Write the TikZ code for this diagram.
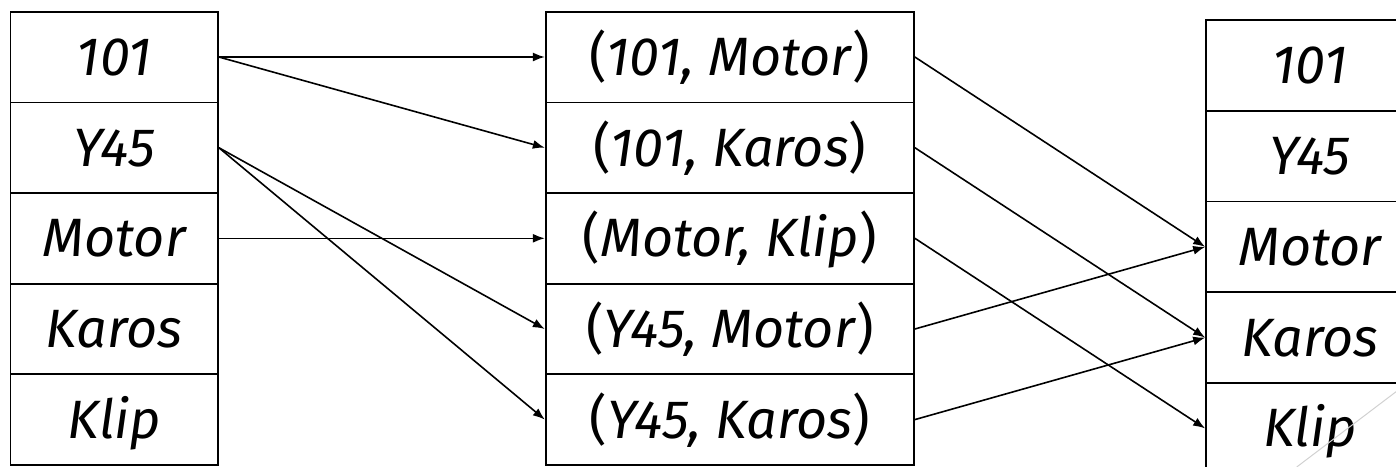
\documentclass[tikz,border=0pt]{standalone}
\usepackage{fontspec}
\setmainfont{Fira Sans}
\usetikzlibrary{arrows.meta}
\begin{document}
\begin{tikzpicture}[x=1pt,y=-1pt,
  cell/.style={draw, line width=1.7pt, rectangle, inner sep=0pt, minimum height=90.7pt,
    text height=37pt, text depth=0pt, font=\fontsize{54}{64}\selectfont\itshape},
  lcell/.style={cell, minimum width=207.5pt},
  mcell/.style={cell, minimum width=368.3pt},
  rcell/.style={cell, minimum width=208pt},
  arr/.style={line width=1.6pt, -{Latex[length=12pt,width=9pt]}},
  deco/.style={draw=black!18, line width=1pt}]
\useasboundingbox (0,0) rectangle (1396,466);
\clip (0,0) rectangle (1396,466);
% left column
\node[lcell] (l1) at (114.25,57.0) {101};
\node[lcell] (l2) at (114.25,147.7) {Y45};
\node[lcell] (l3) at (114.25,238.3) {Motor};
\node[lcell] (l4) at (114.25,329.0) {Karos};
\node[lcell] (l5) at (114.25,419.6) {Klip};
% middle column
\node[mcell] (m1) at (729.85,57.0) {\textup{(}101, Motor\textup{)}};
\node[mcell] (m2) at (729.85,147.7) {\textup{(}101, Karos\textup{)}};
\node[mcell] (m3) at (729.85,238.3) {\textup{(}Motor, Klip\textup{)}};
\node[mcell] (m4) at (729.85,329.0) {\textup{(}Y45, Motor\textup{)}};
\node[mcell] (m5) at (729.85,419.6) {\textup{(}Y45, Karos\textup{)}};
% right column
\node[rcell] (r1) at (1310,65.4) {101};
\node[rcell] (r2) at (1310,156.1) {Y45};
\node[rcell] (r3) at (1310,246.9) {Motor};
\node[rcell] (r4) at (1310,337.6) {Karos};
\node[rcell] (r5) at (1310,428.4) {Klip};
% connectors
\draw[arr] (l1.east) -- (m1.west);
\draw[arr] (l1.east) -- (m2.west);
\draw[arr] (l2.east) -- (m4.west);
\draw[arr] (l2.east) -- (m5.west);
\draw[arr] (l3.east) -- (m3.west);
\draw[arr] (m1.east) -- (r3.west);
\draw[arr] (m2.east) -- (r4.west);
\draw[arr] (m3.east) -- (r5.west);
\draw[arr] (m4.east) -- (r3.west);
\draw[arr] (m5.east) -- (r4.west);
% slide decoration
\coordinate (d1) at (1296.7,467);
\coordinate (d2) at (1397,391);
\draw[deco] (d1) -- (d2);
\end{tikzpicture}
\end{document}
